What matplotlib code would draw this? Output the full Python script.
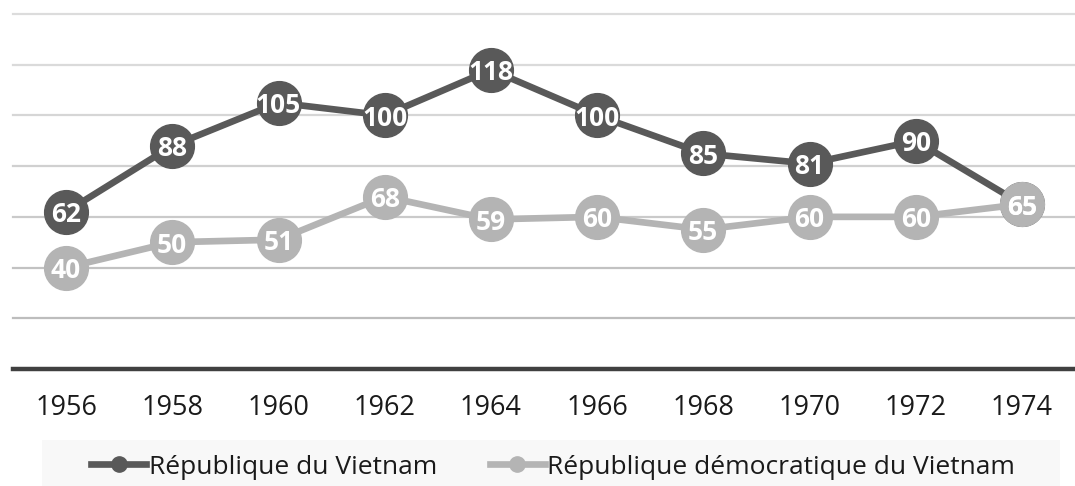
import matplotlib
matplotlib.use("Agg")
import matplotlib.pyplot as plt
from matplotlib.patches import Rectangle
from matplotlib.lines import Line2D

years = ["1956", "1958", "1960", "1962", "1964", "1966", "1968", "1970", "1972", "1974"]
rv = [62, 88, 105, 100, 118, 100, 85, 81, 90, 65]
rdv = [40, 50, 51, 68, 59, 60, 55, 60, 60, 65]
series_names = ["République du Vietnam", "République démocratique du Vietnam"]
grid_vals = [20, 40, 60, 80, 100, 120, 140]

plt.rcParams['font.family'] = ['Open Sans', 'DejaVu Sans']

W, H = 1075, 486
fig = plt.figure(figsize=(W / 100, H / 100), dpi=100)
ax = fig.add_axes([13 / W, (H - 369) / H, 1 - 13 / W, (369 - 14) / H])
ax.set_xlim(-0.5, len(years) - 0.5)
ax.set_ylim(0, 140)

grid_colors = {20: '#bdbdbd', 40: '#c2c2c2', 60: '#cacaca', 80: '#d0d0d0',
               100: '#d6d6d6', 120: '#dadada', 140: '#dcdcdc'}
for g in grid_vals:
    ax.axhline(g, color=grid_colors[g], lw=1.6, zorder=0, clip_on=False)
ax.axhline(0, color='#404040', lw=3.2, zorder=1, clip_on=False)

for s in ax.spines.values():
    s.set_visible(False)
ax.set_yticks([])
x = list(range(len(years)))
ax.set_xticks(x)
ax.set_xticklabels(years, fontsize=19.5, color='#1a1a1a')
ax.tick_params(axis='x', length=0, pad=18)

dark = '#595959'
light = '#b4b4b4'
ax.plot(x, rv, color=dark, lw=4.8, marker='o', ms=31.5, mfc=dark, mec=dark, zorder=3,
        solid_capstyle='round')
ax.plot(x, rdv, color=light, lw=4.8, marker='o', ms=31.5, mfc=light, mec=light, zorder=4,
        solid_capstyle='round')
for xi, v in zip(x, rv):
    ax.text(xi, v, str(v), ha='center', va='center_baseline', color='white',
            fontsize=19, fontweight='bold', zorder=6)
for xi, v in zip(x, rdv):
    ax.text(xi, v, str(v), ha='center', va='center_baseline', color='white',
            fontsize=19, fontweight='bold', zorder=7)

# legend background
fig.patches.append(Rectangle((42 / W, 0), (1060 - 42) / W, (H - 440) / H,
                             transform=fig.transFigure, facecolor='#f8f8f8',
                             edgecolor='none', zorder=0))
handles = [Line2D([], [], color=dark, lw=4.8, marker='o', ms=11, mfc=dark, mec=dark),
           Line2D([], [], color=light, lw=4.8, marker='o', ms=11, mfc=light, mec=light)]
leg = fig.legend(handles, series_names, loc='center', bbox_to_anchor=(553 / W, (H - 467) / H),
                 ncol=2, frameon=False, fontsize=19, handlelength=2.1, handletextpad=0.08,
                 columnspacing=2.0, borderpad=0)
for t in leg.get_texts():
    t.set_color('#1a1a1a')

fig.savefig("out.png", dpi=100)
